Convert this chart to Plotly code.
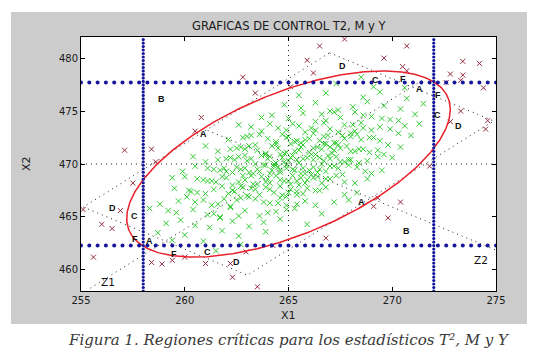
import numpy as np
import plotly.graph_objects as go

# ---------------- data ----------------
green_x1 = [
 265.5,263.7,267.9,262.2,266.1,264.8,267.0,263.0,269.3,264.3,266.5,261.6,265.2,267.5,264.6,266.7,262.6,268.4,264.0,265.9,261.0,266.9,263.4,268.0,265.0,266.3,262.0,267.3,264.4,270.0,263.9,265.7,262.9,268.8,265.1,266.6,262.4,267.7,260.4,266.2,264.1,263.2,269.6,265.4,264.7,
 264.9,263.1,267.4,261.7,265.6,264.3,266.5,262.5,268.7,263.8,266.0,261.1,264.6,267.0,264.1,266.2,262.0,267.9,263.5,265.3,260.5,266.4,262.9,267.6,264.5,265.8,261.4,266.8,263.9,269.5,263.3,265.2,262.3,268.3,264.6,266.1,261.9,267.2,259.9,265.7,263.6,262.7,269.0,264.9,264.2,
 266.0,264.2,268.4,262.7,266.7,265.3,267.5,263.5,269.8,264.8,267.0,262.2,265.7,268.0,265.1,267.2,263.1,268.9,264.5,266.4,261.6,267.4,263.9,268.6,265.5,266.8,262.5,267.8,264.9,270.4,264.4,266.2,263.4,269.3,265.6,267.1,262.9,268.2,261.0,266.6,
 264.4,262.6,266.8,261.1,265.1,263.7,265.9,262.0,268.2,263.2,265.4,260.6,264.1,266.4,263.5,265.6,261.5,267.3,262.9,264.8,260.0,265.8,262.3,267.0,263.9,265.2,260.9,266.2,263.3,268.8,262.8,264.6,261.8,267.7,264.0,265.5,261.3,266.6,259.4,265.0,
 266.5,264.7,268.9,263.2,267.2,265.8,268.0,264.0,270.3,265.3,267.6,262.8,266.2,268.5,265.6,267.7,263.6,269.4,265.0,266.9,262.1,268.0,264.4,269.1,266.0,267.3,263.0,268.3,265.4,270.9,264.9,266.7,
 263.9,262.1,266.3,260.6,264.6,263.2,265.4,261.4,267.7,262.7,265.0,260.2,263.6,265.9,263.0,265.1,261.0,266.8,262.4,264.3,259.5,265.4,261.8,266.5,263.4,264.7,260.3,265.7,262.8,268.3,262.3,264.1,
 267.0,265.2,269.4,263.7,267.7,266.3,268.5,264.5,270.6,265.8,268.1,263.2,266.7,269.0,266.1,268.2,264.1,269.9,265.5,267.4,262.6,268.6,264.9,271.3,
 263.4,261.6,265.8,260.1,264.1,262.7,264.9,260.9,267.2,262.2,264.5,259.7,263.1,265.4,262.5,264.6,260.5,266.3,261.9,263.8,258.8,264.9,261.3,267.9,
 267.5,265.7,269.9,264.2,268.2,266.8,269.0,265.0,271.1,266.3,268.6,263.7,267.2,269.5,266.6,270.3,
 262.9,261.1,265.3,259.6,263.6,262.2,264.4,260.4,266.6,261.7,264.0,259.2,262.6,264.9,261.4,258.3,
 268.1,266.3,270.4,264.8,268.8,267.4,269.6,265.6,271.5,267.0,
 262.3,260.5,264.6,259.1,263.1,261.7,263.8,259.8,265.9,261.2,
 268.6,266.8,270.7,265.5,269.4,
 261.8,260.0,263.9,258.7,262.6,
 269.1,267.3,270.6,
 260.9,262.7,259.4,
 268.5,261.5]
green_x2 = [
 470.1,470.8,470.4,470.6,470.9,470.2,470.5,470.3,470.7,470.0,470.6,470.4,470.8,470.2,470.9,470.3,470.7,470.1,470.5,470.6,470.2,470.8,470.0,470.4,470.3,470.9,470.5,470.7,470.1,470.6,470.9,470.5,470.8,470.3,470.6,470.0,470.4,470.2,470.7,470.4,470.7,470.5,470.9,470.4,470.6,
 469.9,469.2,469.6,469.4,469.1,469.8,469.5,469.7,469.3,469.9,469.4,469.6,469.2,469.8,469.1,469.7,469.3,469.9,469.5,469.4,469.8,469.2,469.6,469.0,469.7,469.1,469.5,469.3,469.9,469.4,469.1,469.5,469.2,469.7,469.4,469.0,469.6,469.8,469.3,469.6,469.3,469.5,469.1,469.6,469.4,
 471.1,471.7,471.4,471.6,471.9,471.2,471.5,471.3,471.8,471.0,471.6,471.4,471.8,471.2,471.9,471.3,471.7,471.1,471.5,471.6,471.2,471.8,471.0,471.4,471.3,471.9,471.5,471.7,471.1,471.6,471.9,471.5,471.8,471.3,471.6,471.0,471.4,471.2,471.7,471.4,
 468.9,468.3,468.6,468.4,468.1,468.8,468.5,468.7,468.2,468.9,468.4,468.6,468.2,468.8,468.1,468.7,468.3,468.9,468.5,468.4,468.8,468.2,468.0,468.6,468.3,468.9,468.5,468.7,468.1,468.6,468.9,468.5,468.8,468.3,468.6,468.0,468.4,468.2,468.7,468.4,
 472.2,472.8,472.5,472.7,472.0,472.3,472.6,472.4,472.9,472.1,472.7,472.5,472.9,472.3,472.0,472.4,472.8,472.2,472.6,472.7,472.3,472.9,472.1,472.5,472.4,472.0,472.6,472.8,472.2,472.7,472.5,472.6,
 467.8,467.2,467.5,467.3,467.9,467.7,467.4,467.6,467.1,467.9,467.3,467.5,467.1,467.7,467.0,467.6,467.2,467.8,467.4,467.3,467.7,467.1,467.9,467.5,467.6,467.05,467.4,467.2,467.8,467.3,467.5,467.6,
 473.3,473.8,473.5,473.1,473.7,473.2,473.9,473.4,473.6,473.0,473.7,473.5,473.9,473.2,473.4,473.1,473.8,473.3,473.6,473.0,473.7,473.4,473.2,473.8,
 466.7,466.2,466.5,466.9,466.3,466.8,466.1,466.6,466.4,466.0,466.3,466.5,466.9,466.2,466.6,466.8,466.4,466.1,466.7,466.4,466.2,466.9,466.1,466.6,
 474.4,474.8,474.2,474.6,474.9,474.1,474.5,474.3,474.7,474.0,474.6,474.4,474.9,474.3,474.7,474.1,
 465.6,465.2,465.8,465.4,465.1,465.9,465.5,465.7,465.3,465.0,465.4,465.6,465.1,465.7,465.3,465.8,
 475.4,475.8,475.2,475.6,475.9,475.1,475.5,475.3,475.7,475.0,
 464.6,464.2,464.8,464.4,464.1,464.9,464.5,464.7,464.3,464.0,
 476.3,476.7,476.2,476.5,476.8,
 463.7,463.3,463.6,463.5,463.2,
 477.3,477.6,477.2,
 462.7,462.4,462.8,
 478.2,461.8]

red_x1 = [266.5,267.7,270.7,265.9,269.6,270.5,273.4,274.2,266.2,270.7,263.4,265.1,272.8,273.4,273.3,272.6,274.4,
          273.3,272.8,274.6,274.5,271.8,262.8,260.8,260.5,257.1,258.4,258.6,257.5,255.1,256.9,256.0,256.5,255.6,
          258.4,258.9,259.4,260.0,261.0,262.3,262.2,262.95,263.5,264.25,266.8,269.1,269.3,270.4,269.8]
red_x2 = [481.15,481.8,481.15,479.8,480.0,479.2,479.7,479.5,478.6,478.8,476.7,477.3,478.5,478.4,477.9,477.7,477.2,
          475.0,474.0,474.1,473.3,469.8,478.2,474.4,473.1,471.3,471.4,470.2,468.2,465.7,465.6,464.3,463.9,461.2,
          460.7,460.55,460.9,461.2,460.6,459.3,460.6,461.7,458.4,462.3,463.0,466.0,466.8,466.4,464.9]

mean_vec = [265.0, 470.0]
cov_mat = [[6.08, 4.01], [4.01, 7.74]]
t2_limit = 10.0
m_lim_x1 = [258.0, 272.0]
m_lim_x2 = [462.3, 477.7]
y_half = [9.4, 5.1]          # half widths of Y region along Z1, Z2
z1_extent = [10.49, -15.2]   # Z1 axis drawn between these scores
z2_extent = [5.31, -12.9]    # Z2 axis drawn between these scores

region_text = ["D","C","F","A","F","C","D","B","A","D","C","F","A","F","C","D","A","B"]
region_x1 = [267.6,269.2,270.5,271.3,272.2,272.2,273.2,258.9,260.9,256.5,257.6,257.6,258.3,259.5,261.1,262.5,268.5,270.7]
region_x2 = [479.3,477.9,478.0,477.1,476.5,474.6,473.6,476.1,472.8,465.8,465.1,462.9,462.7,461.5,461.7,460.7,466.4,463.7]
z_text = ["Z1", "Z2"]
z_x1 = [256.3, 274.3]
z_x2 = [458.85, 460.9]

x_ticks = [255, 260, 265, 270, 275]
y_ticks = [460, 465, 470, 475, 480]
x_range = [255, 275]
y_range = [458, 482]

# ---------------- geometry ----------------
c = np.array(mean_vec)
lam, vec = np.linalg.eigh(np.array(cov_mat))
v1 = vec[:, 1]
if v1[0] < 0:
    v1 = -v1
v2 = np.array([-v1[1], v1[0]])
a1 = np.sqrt(t2_limit * lam[1])
a2 = np.sqrt(t2_limit * lam[0])
tt = np.linspace(0, 2 * np.pi, 361)
ell = c[:, None] + a1 * np.cos(tt) * v1[:, None] + a2 * np.sin(tt) * v2[:, None]

signs = [(1, 1), (1, -1), (-1, -1), (-1, 1), (1, 1)]
rect = np.array([c + s1 * y_half[0] * v1 + s2 * y_half[1] * v2 for s1, s2 in signs])
z1 = np.array([c + s * v1 for s in z1_extent])
z2 = np.array([c + s * v2 for s in z2_extent])

dot_style = dict(color="#222222", width=1, dash="1px,4px")
blue = "#16169c"

fig = go.Figure()
fig.add_trace(go.Scatter(x=green_x1, y=green_x2, mode="markers",
                         marker=dict(symbol="x-thin", size=5.5, line=dict(width=1, color="#33cc33"))))
fig.add_trace(go.Scatter(x=red_x1, y=red_x2, mode="markers",
                         marker=dict(symbol="x-thin", size=5, line=dict(width=1, color="#962c3e"))))
# centre cross
fig.add_trace(go.Scatter(x=[mean_vec[0], mean_vec[0]], y=y_range, mode="lines", line=dot_style))
fig.add_trace(go.Scatter(x=x_range, y=[mean_vec[1], mean_vec[1]], mode="lines", line=dot_style))
# Y region and principal axes
fig.add_trace(go.Scatter(x=rect[:, 0], y=rect[:, 1], mode="lines", line=dot_style))
fig.add_trace(go.Scatter(x=z1[:, 0], y=z1[:, 1], mode="lines", line=dot_style))
fig.add_trace(go.Scatter(x=z2[:, 0], y=z2[:, 1], mode="lines", line=dot_style))
# T2 ellipse
fig.add_trace(go.Scatter(x=ell[0], y=ell[1], mode="lines", line=dict(color="#e8202a", width=1.5)))
# M limits as blue dots
hx = np.arange(x_range[0], x_range[1] + 1e-6, 0.4)
vy = np.arange(y_range[0], y_range[1] + 1e-6, 0.33)
for yl in m_lim_x2:
    fig.add_trace(go.Scatter(x=hx, y=[yl] * len(hx), mode="markers",
                             marker=dict(symbol="circle", size=4, color=blue)))
for xl in m_lim_x1:
    fig.add_trace(go.Scatter(x=[xl] * len(vy), y=vy, mode="markers",
                             marker=dict(symbol="circle", size=3.2, color=blue)))

annotations = []
for t, xx, yy in zip(region_text, region_x1, region_x2):
    annotations.append(dict(x=xx, y=yy, xref="x", yref="y", text="<b>%s</b>" % t, showarrow=False,
                            font=dict(family="Liberation Sans, Arial", size=9, color="#111111")))
for t, xx, yy in zip(z_text, z_x1, z_x2):
    annotations.append(dict(x=xx, y=yy, xref="x", yref="y", text=t, showarrow=False,
                            font=dict(family="DejaVu Sans", size=10.5, color="#111111")))

font_main = dict(family="DejaVu Sans", size=11, color="#1a1a1a")
annotations.append(dict(x=0.5, y=1.043, xref="paper", yref="paper", text="GRAFICAS DE CONTROL T2, M y Y",
                        showarrow=False, font=dict(family="DejaVu Sans", size=11.5, color="#1a1a1a"),
                        xanchor="center", yanchor="middle"))
annotations.append(dict(x=0.5, y=-0.0945, xref="paper", yref="paper", text="X1",
                        showarrow=False, font=font_main, xanchor="center", yanchor="middle"))
annotations.append(dict(x=-0.1325, y=0.5, xref="paper", yref="paper", text="X2", textangle=-90,
                        showarrow=False, font=font_main, xanchor="center", yanchor="middle"))
annotations.append(dict(x=0.5, y=-0.193, xref="paper", yref="paper",
                        text="Figura 1. Regiones críticas para los estadísticos T², M y Y",
                        showarrow=False, xanchor="center", yanchor="middle",
                        font=dict(family="DejaVu Serif", size=15, color="#3a3a3a", style="italic")))

L, R, T, B = 73, 57, 29, 70
W, H = 545, 353
pw, ph = W - L - R, H - T - B
gx0, gx1, gy0, gy1 = 3, 519, 4, 316
shapes = [
    dict(type="rect", xref="paper", yref="paper", layer="below",
         x0=(gx0 - L) / pw, x1=(gx1 - L) / pw, y0=(H - B - gy1) / ph, y1=(H - B - gy0) / ph,
         fillcolor="#cccccc", line=dict(width=0)),
    dict(type="rect", xref="paper", yref="paper", layer="below",
         x0=0, x1=1, y0=0, y1=1, fillcolor="white", line=dict(width=0)),
]

axis_common = dict(showgrid=False, zeroline=False, showline=True, linecolor="black", linewidth=1,
                   mirror="ticks", ticks="inside", ticklen=4, tickcolor="black",
                   tickfont=dict(family="DejaVu Sans", size=10, color="#1a1a1a"))
fig.update_layout(
    width=W, height=H, autosize=False,
    margin=dict(l=L, r=R, t=T, b=B),
    paper_bgcolor="white", plot_bgcolor="white",
    showlegend=False, shapes=shapes, annotations=annotations,
    xaxis=dict(range=x_range, tickvals=x_ticks, **axis_common),
    yaxis=dict(range=y_range, tickvals=y_ticks, **axis_common),
)
fig.write_html("out.html")
